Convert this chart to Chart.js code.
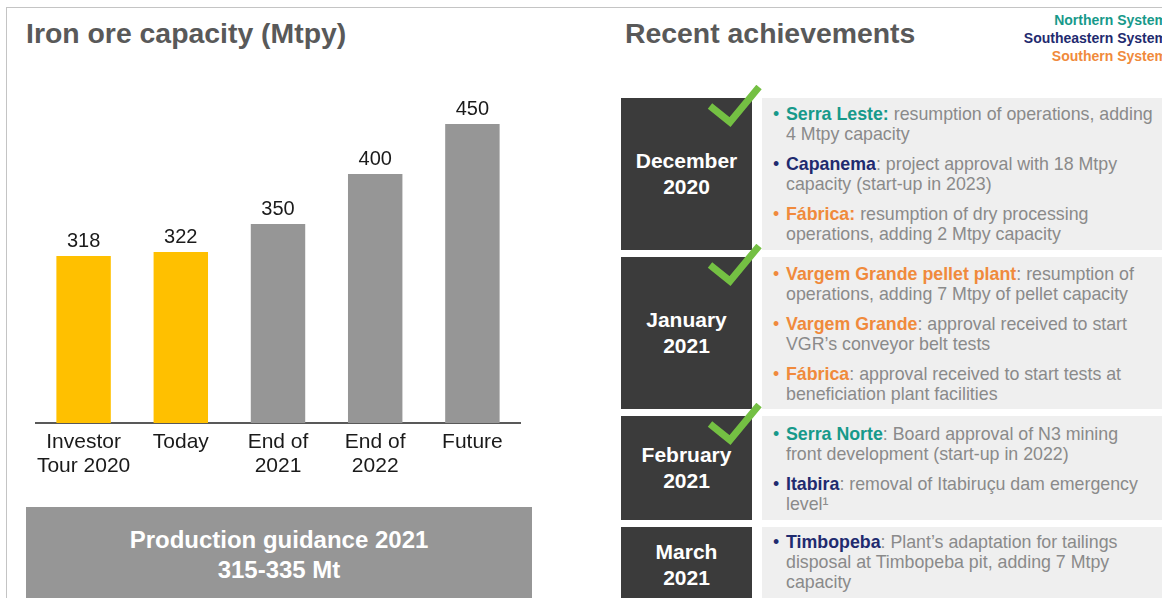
<!DOCTYPE html>
<html>
<head>
<meta charset="utf-8">
<script src="https://cdn.jsdelivr.net/npm/chart.js@4.4.1/dist/chart.umd.min.js"></script>
<style>
  body { margin: 0; width: 1162px; height: 598px; overflow: hidden; background: #fff;
         font-family: "Liberation Sans", Arial, sans-serif; position: relative; }
  .frame-top { position: absolute; left: 6px; top: 7px; width: 1160px; height: 1px; background: #c4c4c4; }
  .frame-left { position: absolute; left: 6px; top: 7px; width: 1px; height: 600px; background: #c4c4c4; }
  .title { position: absolute; top: 17px; font-size: 28.4px; font-weight: bold; color: #595959; white-space: nowrap; }
  #chartBox { position: absolute; left: 35px; top: 90px; width: 486px; height: 390px; }
  .guidance { position: absolute; left: 26px; top: 507px; width: 506px; height: 95px; background: #969696;
              color: #fff; font-weight: bold; font-size: 24px; line-height: 30px; text-align: center;
              padding-top: 18px; box-sizing: border-box; }
  .legend { position: absolute; right: -5px; top: 11px; text-align: right; font-weight: bold;
            font-size: 14px; line-height: 18px; white-space: nowrap; }
  .north { color: #17998a; }
  .southeast { color: #1f2b6f; }
  .south { color: #f08a3c; }
  .date { position: absolute; left: 621px; width: 131px; background: #3b3b3b; color: #fff;
          font-weight: bold; font-size: 21px; line-height: 26px; text-align: center;
          display: flex; align-items: center; justify-content: center; }
  .content { position: absolute; left: 762px; width: 410px; background: #efefef; color: #8a8a8a;
             font-size: 17.8px; line-height: 20px; white-space: nowrap; box-sizing: border-box; padding-left: 11px; }
  .item { position: relative; padding-left: 13px; margin-bottom: 10px; }
  .item .dot { position: absolute; left: 0; top: 0; }
  .item b { font-weight: bold; }
  .item span.t { color: #8a8a8a; }
  .check { position: absolute; left: 705px; width: 58px; height: 42px; }
</style>
</head>
<body>
<div class="frame-top"></div>
<div class="frame-left"></div>

<div class="title" style="left:26px;">Iron ore capacity (Mtpy)</div>
<div id="chartBox"><canvas id="capacityChart"></canvas></div>
<div class="guidance">Production guidance 2021<br>315-335 Mt</div>

<div class="title" style="left:625px;">Recent achievements</div>
<div class="legend">
  <div class="north">Northern System</div>
  <div class="southeast">Southeastern System</div>
  <div class="south">Southern System</div>
</div>

<div class="date" style="top:98px;height:152px;">December<br>2020</div>
<div class="content" style="top:98px;height:152px;padding-top:6px;">
  <div class="item north"><span class="dot">•</span><b>Serra Leste:</b> <span class="t">resumption of operations, adding<br>4 Mtpy capacity</span></div>
  <div class="item southeast"><span class="dot">•</span><b>Capanema</b><span class="t">: project approval with 18 Mtpy<br>capacity (start-up in 2023)</span></div>
  <div class="item south"><span class="dot">•</span><b>Fábrica:</b> <span class="t">resumption of dry processing<br>operations, adding 2 Mtpy capacity</span></div>
</div>

<div class="date" style="top:257px;height:152px;">January<br>2021</div>
<div class="content" style="top:257px;height:152px;padding-top:7px;">
  <div class="item south"><span class="dot">•</span><b>Vargem Grande pellet plant</b><span class="t">: resumption of<br>operations, adding 7 Mtpy of pellet capacity</span></div>
  <div class="item south"><span class="dot">•</span><b>Vargem Grande</b><span class="t">: approval received to start<br>VGR’s conveyor belt tests</span></div>
  <div class="item south"><span class="dot">•</span><b>Fábrica</b><span class="t">: approval received to start tests at<br>beneficiation plant facilities</span></div>
</div>

<div class="date" style="top:416px;height:104px;">February<br>2021</div>
<div class="content" style="top:416px;height:104px;padding-top:8px;">
  <div class="item north"><span class="dot">•</span><b>Serra Norte</b><span class="t">: Board approval of N3 mining<br>front development (start-up in 2022)</span></div>
  <div class="item southeast"><span class="dot">•</span><b>Itabira</b><span class="t">: removal of Itabiruçu dam emergency<br>level¹</span></div>
</div>

<div class="date" style="top:527px;height:76px;">March<br>2021</div>
<div class="content" style="top:527px;height:76px;padding-top:5px;">
  <div class="item southeast"><span class="dot">•</span><b>Timbopeba</b><span class="t">: Plant’s adaptation for tailings<br>disposal at Timbopeba pit, adding 7 Mtpy<br>capacity</span></div>
</div>

<svg class="check" style="top:85px;" viewBox="0 0 58 42"><polyline points="5,21 25,37 54,2" fill="none" stroke="#74c043" stroke-width="7"/></svg>
<svg class="check" style="top:244px;" viewBox="0 0 58 42"><polyline points="5,21 25,37 54,2" fill="none" stroke="#74c043" stroke-width="7"/></svg>
<svg class="check" style="top:403px;" viewBox="0 0 58 42"><polyline points="5,21 25,37 54,2" fill="none" stroke="#74c043" stroke-width="7"/></svg>

<script>
const categories = [['Investor', 'Tour 2020'], 'Today', ['End of', '2021'], ['End of', '2022'], 'Future'];
const capacity = [318, 322, 350, 400, 450];
const actualCount = 2; // first two bars are current capacity

const valueLabels = {
  id: 'valueLabels',
  afterDatasetsDraw(chart) {
    const ctx = chart.ctx;
    const meta = chart.getDatasetMeta(0);
    ctx.save();
    ctx.font = '20px "Liberation Sans", Arial, sans-serif';
    ctx.fillStyle = '#1a1a1a';
    ctx.textAlign = 'center';
    ctx.textBaseline = 'alphabetic';
    meta.data.forEach((bar, i) => {
      ctx.fillText(capacity[i], bar.x, bar.y - 9);
    });
    ctx.restore();
  }
};

new Chart(document.getElementById('capacityChart'), {
  type: 'bar',
  data: {
    labels: categories,
    datasets: [{
      data: capacity,
      backgroundColor: capacity.map((v, i) => i < actualCount ? '#ffc000' : '#969696'),
      barPercentage: 0.56,
      categoryPercentage: 1
    }]
  },
  options: {
    responsive: true,
    maintainAspectRatio: false,
    animation: false,
    layout: { padding: 0 },
    plugins: { legend: { display: false }, tooltip: { enabled: false } },
    scales: {
      y: { display: false, min: 151, max: 484 },
      x: {
        afterFit: s => { s.height = 57; s.paddingLeft = 0; s.paddingRight = 0; },
        grid: { display: false, drawTicks: false },
        border: { display: true, color: '#595959', width: 2 },
        ticks: {
          padding: 7,
          color: '#1a1a1a',
          maxRotation: 0,
          font: { family: '"Liberation Sans", Arial, sans-serif', size: 21, lineHeight: 1.15 }
        }
      }
    }
  },
  plugins: [valueLabels]
});
</script>
</body>
</html>
